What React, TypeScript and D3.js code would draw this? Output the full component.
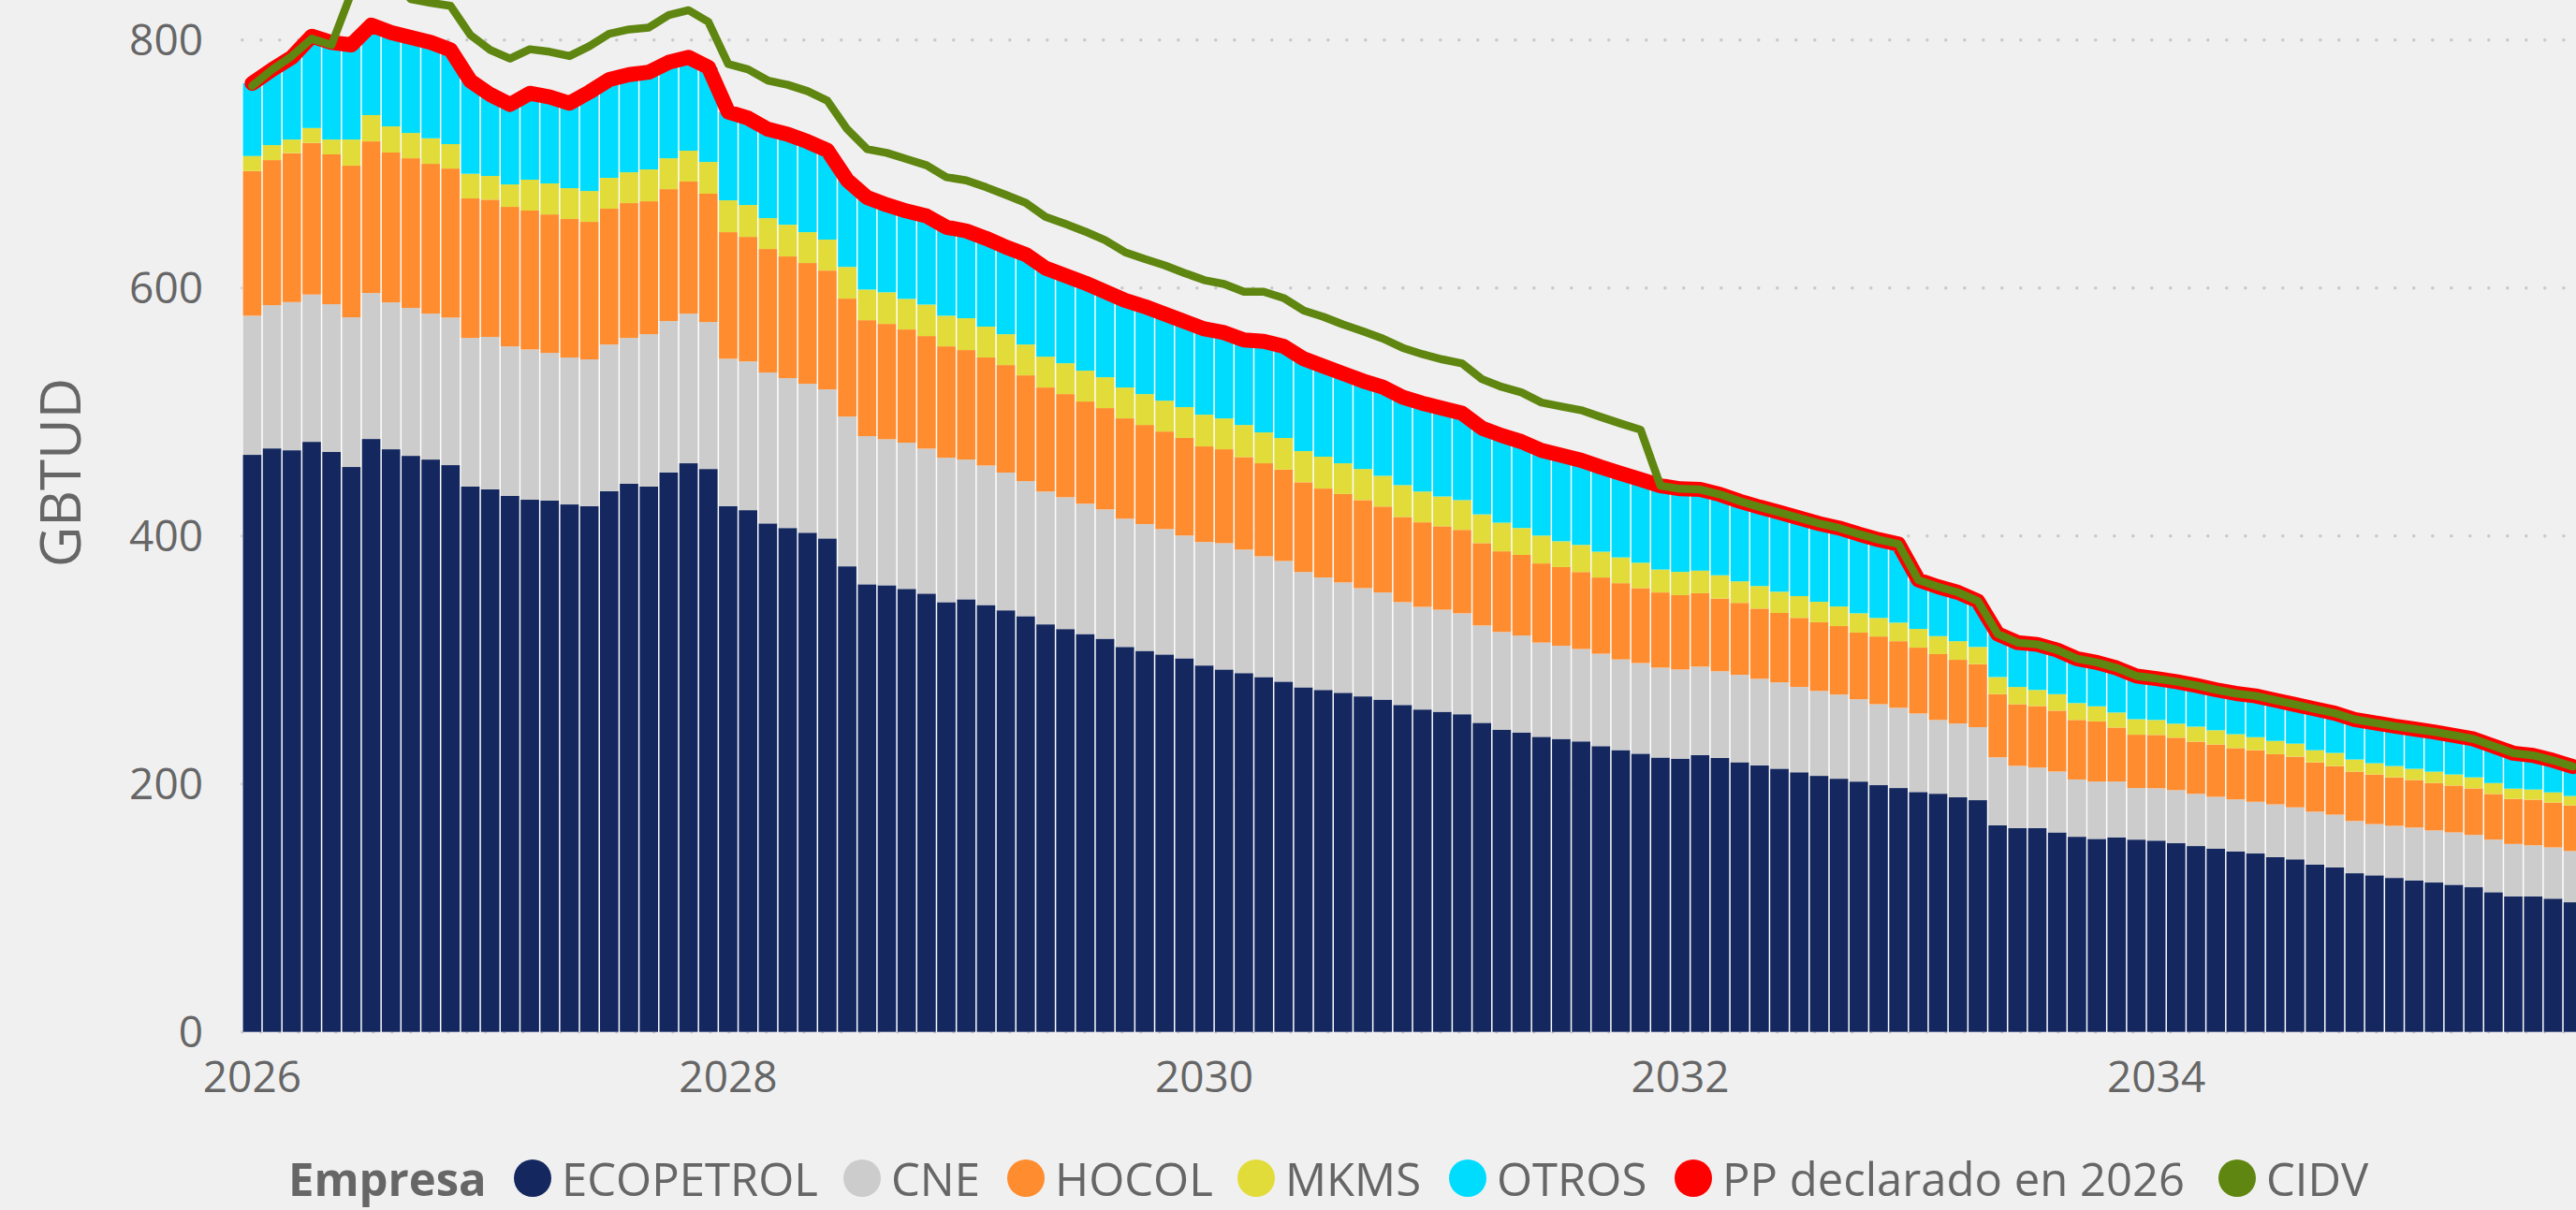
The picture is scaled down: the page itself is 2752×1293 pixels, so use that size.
import React from "react";
import * as d3 from "d3";

const WIDTH = 2752;
const HEIGHT = 1293;

// monthly categories, Jan 2026 .. Oct 2035
const months = d3.timeMonth.range(new Date(2026, 0, 1), new Date(2035, 10, 1));
const yearTicks = ["2026", "2028", "2030", "2032", "2034"];
const yTicks = [0, 200, 400, 600, 800];

const seriesNames = ["ECOPETROL", "CNE", "HOCOL", "MKMS", "OTROS"];
const seriesColors = ["#14285f", "#cccccc", "#ff8c2f", "#e1dc3a", "#00dcfd"];

const ecopetrol = [
  465.4, 470.6, 469.1, 475.9, 467.9, 455.6, 478.2, 469.9, 464.6, 461.6, 457.1, 439.9, 437.6, 432.4, 429.2,
  428.6, 425.4, 424, 436.1, 442.2, 439.9, 451.1, 458.6, 454, 424, 420.8, 410.1, 406.4, 402.6, 398,
  375.5, 361, 360.2, 357.3, 353.5, 346.6, 348.9, 344.3, 340, 335.3, 328.7, 324.9, 320.9, 317.1, 310.5,
  307.3, 304.4, 301.3, 295.5, 292.3, 289.4, 286.2, 282.5, 277.9, 275.8, 273.5, 270.6, 268, 263.7, 260,
  258.2, 256.2, 249.3, 243.8, 241.5, 238, 236.3, 234.3, 230.5, 227.3, 224.4, 221.3, 220.4,
  223.3, 221, 217.5, 214.9, 212.3, 209.4, 206.5, 204.2, 201.9, 199, 196.7, 193.5, 192.1, 189.2, 186.9,
  166.7, 164.4, 164.4, 160.9, 157.4, 155.7, 156.9, 155.1, 154.3, 152.2, 149.9, 147.9, 145.6, 143.9, 141,
  139.2, 134.9, 132.6, 128, 126.3, 124.2, 122.2, 120.5, 118.7, 116.7, 112.7, 109.2, 109.2, 107.5, 104.6,
];

const cne = [
  112.2, 115.5, 119.5, 118.8, 119, 120.7, 117.7, 118.5, 119.3, 117.7, 119, 119.8, 122.9, 120.5, 121.2,
  119, 118.5, 118.4, 118.3, 117.5, 122.8, 122.2, 120.7, 118.5, 118.9, 120, 121.7, 120.9, 120.1, 120.2,
  120.8, 119.5, 117.8, 117.9, 116.9, 116.5, 112.7, 112.5, 111.1, 108.9, 107.1, 106.3, 105.1, 104.3, 103.4,
  102.3, 101.1, 99, 99.6, 101.9, 99.6, 97.4, 97.3, 93, 90.7, 89, 87.3, 86.4, 82.9, 82.8,
  82.3, 81.4, 78.5, 78.8, 78.2, 76, 75.1, 74.5, 74.5, 73.1, 73.1, 72.5, 71.9,
  71.3, 69.9, 70.5, 69.9, 69.6, 68.8, 68.5, 67.9, 66.4, 65.3, 64.7, 63.3, 59.5, 59.5, 58.9,
  54.8, 50.2, 48.8, 49.1, 46.2, 46.2, 45, 41.6, 42.2, 42.8, 42.1, 41.7, 41.9, 41.7, 42.5,
  41.9, 42.7, 42.6, 42.1, 41.3, 42, 42.6, 42, 42.2, 42.2, 42.4, 42.4, 41.3, 41.3, 41.3,
];

const hocol = [
  116.7, 117, 120.1, 122.3, 120.8, 122.3, 122.3, 120.8, 120.7, 120.8, 120.2, 112.5, 110.7, 112.5, 112,
  111.7, 111.7, 110.9, 109.5, 108.7, 107.2, 106.4, 106.5, 103.5, 102.1, 100.4, 99.6, 98.1, 97.4, 95.8,
  95.1, 93.5, 93, 91.3, 90.8, 89.8, 88.3, 87.1, 86.7, 85.3, 83.9, 83.2, 82.4, 81.7, 80.9,
  79.9, 78.7, 78.7, 77.1, 75.7, 74.6, 75, 73.7, 72.4, 71.7, 71.3, 71, 69.3, 68.7, 68.2,
  67.3, 67.3, 66.4, 65, 65, 63.8, 63.5, 62.1, 61.5, 61.5, 60.4, 60.6, 59.9,
  59.2, 58.6, 58, 56.6, 56, 55.7, 55.4, 55.2, 53.8, 54.6, 53.7, 53.1, 53.1, 51.4, 50.8,
  50.9, 49.7, 49.6, 49.1, 48, 48.5, 43.6, 43, 43, 42.3, 42.1, 42.2, 41.4, 41.6, 40.5,
  40.9, 39.8, 39.2, 39.8, 40, 39.1, 38.4, 38.2, 37.8, 37.5, 36.8, 36.4, 36.8, 36.2, 36.8,
];

const mkms = [
  12.1, 12.1, 11, 12, 12, 21.1, 21.2, 21.1, 20.4, 20.6, 19.7, 19.9, 19.1, 18.1, 24.9,
  25, 24.9, 24.9, 24.9, 24.9, 25.7, 24.9, 24.9, 25.6, 25.7, 25.7, 24.9, 25.6, 24.9, 25,
  25.6, 24.7, 25.5, 24.7, 25.4, 24.7, 25.7, 24.9, 24.9, 24.9, 24.9, 24.9, 24.9, 24.9, 24.9,
  24.9, 24.9, 24.9, 25.6, 24.9, 25.9, 24.9, 25.5, 25.1, 25.7, 24.8, 25.1, 24.8, 25.7, 24.8,
  24, 24, 23.2, 23.1, 21.7, 22.5, 20.8, 21.9, 20.8, 20.8, 20.5, 18.5, 18.8,
  18.2, 18.8, 17.4, 18.2, 17.1, 17.6, 16.5, 15.8, 15.5, 15, 15, 15.1, 14.5, 15, 13.9,
  13.8, 13.9, 13, 13.3, 13.6, 12.2, 12.1, 12.5, 12.1, 11.3, 12.1, 11.5, 11.2, 10.5, 10.7,
  10.5, 9.8, 10.6, 9.8, 9.1, 9.1, 9, 9.2, 8.9, 8.9, 8.8, 8.2, 8.2, 8.2, 7.6,
];

const otros = [
  58.6, 60.8, 66.3, 74, 78.3, 76.3, 72.6, 75.7, 77, 77.3, 76, 74.9, 65.7, 64.5, 69.7,
  69.7, 68.5, 79.8, 79.2, 78.7, 78.4, 77.4, 75.3, 76.4, 71.3, 70.1, 71.7, 73, 73, 72,
  70, 74.3, 70.5, 70.8, 71.4, 71.4, 70.4, 71.2, 70.3, 72.6, 71.4, 70.7, 70.7, 69, 70.3,
  70.6, 69.9, 69.1, 69.2, 69.2, 68.5, 73.5, 74, 74.6, 73.1, 72.4, 71, 71.5, 71, 71.2,
  71.2, 70.1, 69.6, 70.3, 69.6, 68.7, 69.3, 68.2, 68.2, 67.8, 67.1, 67.6, 67,
  65.5, 65.2, 64.6, 63.7, 64, 63, 63.1, 63.3, 63.9, 63.1, 63.4, 39.5, 39.8, 39.4, 37,
  34.8, 35.8, 36.7, 35.6, 35.8, 35.4, 35.9, 34.8, 33.4, 33.9, 33.3, 32.7, 32.9, 33.3, 32.8,
  31.5, 33.3, 32, 32.3, 32.6, 32.2, 32.1, 32.1, 31.6, 30.9, 29.8, 28.6, 27.5, 25.8, 23.7,
];

// PP declarado en 2026
const ppDeclarado = [
  765, 776, 786, 803, 798, 796, 812, 806, 802, 798, 792, 767, 756, 748, 757,
  754, 749, 758, 768, 772, 774, 782, 786, 778, 742, 737, 728, 724, 718, 711,
  687, 673, 667, 662, 658, 649, 646, 640, 633, 627, 616, 610, 604, 597, 590,
  585, 579, 573, 567, 564, 558, 557, 553, 543, 537, 531, 525, 520, 512, 507,
  503, 499, 487, 481, 476, 469, 465, 461, 455.5, 450.5, 445.5, 440.5, 438,
  437.5, 433.5, 428, 423.3, 419, 414.5, 410, 406.4, 401.5, 397, 393.5, 364.5, 359, 354.5, 347.5,
  321, 314, 312.5, 308, 301, 298, 293.5, 287, 285, 282.5, 279.5, 276, 273, 271, 267.5,
  264, 260.5, 257, 252, 249.3, 246.6, 244.3, 242, 239.2, 236.2, 230.5, 224.8, 223, 219, 214,
];

const cidv = [
  763, 776, 787, 801, 796, 838, 858, 850, 833, 830, 827.5, 804, 792, 785, 792.5,
  790.5, 787, 795, 805, 808.5, 810, 820, 824, 814.6, 780.6, 776.3, 767.3, 763.8, 758.7, 751,
  728, 712, 708.9, 703.9, 698.9, 689.3, 686.8, 681.2, 675, 668.7, 657.3, 651.6, 645.5, 638.5, 628.9,
  623.4, 618.3, 612.1, 606.3, 603.2, 597, 597, 591.9, 581.9, 576.8, 570.5, 565, 559.2, 551.7, 546.6,
  542.4, 539.1, 526.5, 520.2, 515.7, 507.6, 504.4, 501.4, 495.9, 490.6, 485.6, 440.5, 438,
  437.5, 433.5, 428, 423.3, 419, 414.5, 410, 406.4, 401.5, 397, 393.5, 364.5, 359, 354.5, 347.5,
  321, 314, 312.5, 308, 301, 298, 293.5, 287, 285, 282.5, 279.5, 276, 273, 271, 267.5,
  264, 260.5, 257, 252, 249.3, 246.6, 244.3, 242, 239.2, 236.2, 230.5, 224.8, 223, 219, 214,
];

const legendItems = [
  { label: "ECOPETROL", color: "#14285f" },
  { label: "CNE", color: "#cccccc" },
  { label: "HOCOL", color: "#ff8c2f" },
  { label: "MKMS", color: "#e1dc3a" },
  { label: "OTROS", color: "#00dcfd" },
  { label: "PP declarado en 2026", color: "#ff0000" },
  { label: "CIDV", color: "#5f8610" },
];
// legend marker centres (layout only)
const legendX = [569, 921, 1096, 1342, 1568, 1809, 2390];

const FONT = "'Open Sans', 'Noto Sans', sans-serif";
const TEXT = "#666666";

const plotLeft = 258.8;
const step = 21.19;
const legendBase = 1278;

export default function App() {
  const seriesValues = [ecopetrol, cne, hocol, mkms, otros];
  const rows = months.map((m, i) => {
    const r: any = { i };
    seriesNames.forEach((s, k) => (r[s] = seriesValues[k][i]));
    return r;
  });
  const stacked = d3.stack<any>().keys(seriesNames)(rows);
  const totals = rows.map((r) => d3.sum(seriesNames, (s) => r[s]));

  const x = d3
    .scaleBand<number>()
    .domain(d3.range(months.length))
    .range([plotLeft, plotLeft + step * months.length])
    .paddingInner(0.07)
    .paddingOuter(0.035);
  const y = d3.scaleLinear().domain([0, 800]).range([1102.7, 42.7]);

  const bw = x.bandwidth();
  const cx = (i: number) => (x(i) as number) + bw / 2;

  const line = d3
    .line<number>()
    .x((d, i) => cx(i))
    .y((d) => y(d));

  return (
    <div style={{ position: "absolute", left: 0, top: 0 }}>
      <svg width={WIDTH} height={HEIGHT} style={{ display: "block", background: "#f0f0f0" }}>
        <rect width={WIDTH} height={HEIGHT} fill="#f0f0f0" />

        {/* dotted gridlines */}
        {yTicks.map((t) => (
          <line
            key={"g" + t}
            x1={plotLeft}
            x2={WIDTH}
            y1={y(t)}
            y2={y(t)}
            stroke="#c8c8c8"
            strokeWidth={3.5}
            strokeDasharray="0 20"
            strokeLinecap="round"
          />
        ))}

        {/* white separators under each column */}
        {totals.map((t, i) => (
          <rect
            key={"w" + i}
            x={(x(i) as number) - (x.step() - bw) / 2}
            width={x.step()}
            y={y(t)}
            height={y(0) - y(t)}
            fill="#ffffff"
          />
        ))}

        {stacked.map((layer, k) => (
          <g key={layer.key} fill={seriesColors[k]}>
            {layer.map((d, i) => (
              <rect key={i} x={x(i)} width={bw} y={y(d[1])} height={Math.max(0, y(d[0]) - y(d[1]))} />
            ))}
          </g>
        ))}

        <path
          d={line(ppDeclarado) || ""}
          fill="none"
          stroke="#ff0000"
          strokeWidth={16}
          strokeLinejoin="round"
          strokeLinecap="round"
        />
        <path
          d={line(cidv) || ""}
          fill="none"
          stroke="#5f8610"
          strokeWidth={8.5}
          strokeLinejoin="round"
          strokeLinecap="round"
        />

        {/* y axis */}
        {yTicks.map((t) => (
          <text key={"yt" + t} x={217} y={y(t) + 16} textAnchor="end" fontFamily={FONT} fontSize={46} fill={TEXT}>
            {t}
          </text>
        ))}
        <text
          transform="translate(86,505) rotate(-90)"
          textAnchor="middle"
          fontFamily={FONT}
          fontSize={60}
          fill={TEXT}
        >
          GBTUD
        </text>

        {/* x axis */}
        {yearTicks.map((yr) => {
          const idx = (+yr - 2026) * 12;
          return (
            <text key={yr} x={cx(idx)} y={1167} textAnchor="middle" fontFamily={FONT} fontSize={46} fill={TEXT}>
              {yr}
            </text>
          );
        })}

        {/* legend */}
        <text x={308} y={legendBase} fontFamily={FONT} fontSize={49} fontWeight={700} fill={TEXT}>
          Empresa
        </text>
        {legendItems.map((it, k) => (
          <g key={it.label}>
            <circle cx={legendX[k]} cy={legendBase - 19} r={20} fill={it.color} />
            <text x={legendX[k] + 31} y={legendBase} fontFamily={FONT} fontSize={49} fill={TEXT}>
              {it.label}
            </text>
          </g>
        ))}
      </svg>
    </div>
  );
}
